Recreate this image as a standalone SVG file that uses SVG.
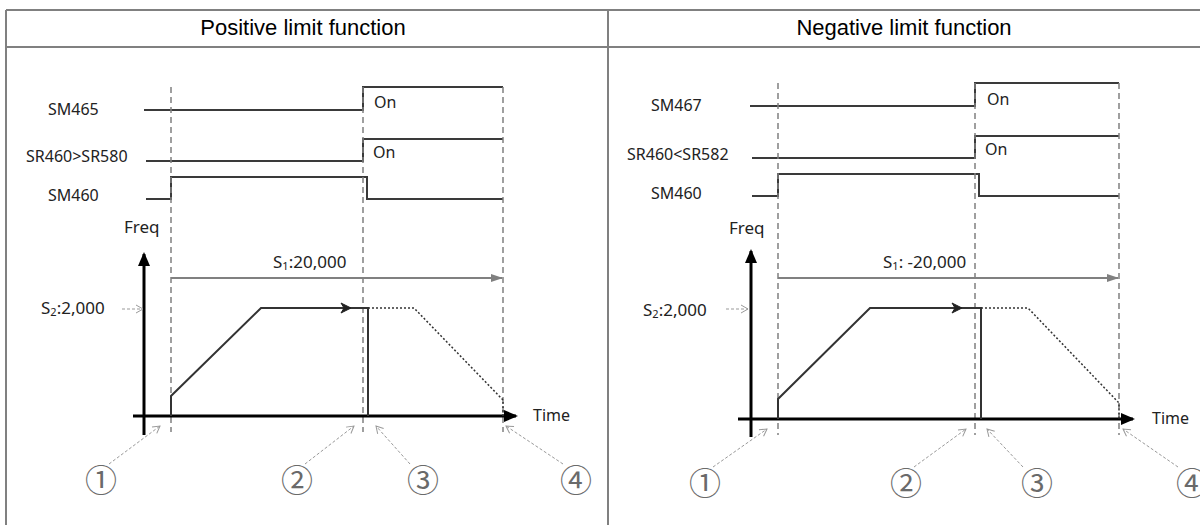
<svg xmlns="http://www.w3.org/2000/svg" width="1200" height="525" viewBox="0 0 1200 525">
<style>
.frame{stroke:#808080;stroke-width:2;fill:none}
.hdr{font-family:"Liberation Sans",Arial,sans-serif;font-size:22px;fill:#000;text-anchor:middle}
.sig{stroke:#3a3a3a;stroke-width:2;fill:none}
.lbl{font-family:"Noto Sans","Open Sans",sans-serif;font-size:16px;fill:#222}
.on{font-family:"Noto Sans","Open Sans",sans-serif;font-size:16px;fill:#222}
.val{font-family:"Noto Sans","Open Sans",sans-serif;font-size:17px;fill:#222}
.sub{font-size:11px}
.vdash{stroke:#808080;stroke-width:1.5;stroke-dasharray:6 4;fill:none}
.axis{stroke:#000;stroke-width:3;fill:none}
.s1{stroke:#808080;stroke-width:2;fill:none}
.prof{stroke:#333;stroke-width:2;fill:none}
.dot{stroke:#333;stroke-width:1.5;stroke-dasharray:2 2;fill:none}
.ann{stroke:#999;stroke-width:1;stroke-dasharray:3 2;fill:none}
.num{font-family:"Noto Sans CJK JP","DejaVu Sans",sans-serif;font-size:32px;fill:#6a6a6a;text-anchor:middle}
</style>
<defs>
<marker id="axisHead" markerUnits="userSpaceOnUse" markerWidth="14" markerHeight="14" viewBox="0 0 14 14" refX="12" refY="7" orient="auto"><path d="M0,1 L14,7 L0,13 z" fill="#000"/></marker>
<marker id="grayHead" markerUnits="userSpaceOnUse" markerWidth="12" markerHeight="10" viewBox="0 0 12 10" refX="11" refY="5" orient="auto"><path d="M0,1 L12,5 L0,9 z" fill="#808080"/></marker>
<marker id="openHead" markerUnits="userSpaceOnUse" markerWidth="10" markerHeight="10" viewBox="0 0 10 10" refX="8" refY="5" orient="auto"><path d="M1,1 L8,5 L1,9" fill="none" stroke="#999" stroke-width="1"/></marker>
</defs>

<g id="table">
<path class="frame" d="M6,10 H1200 M6,47 H1200 M6,10 V525 M608,10 V525"/>
<text class="hdr" x="303" y="35">Positive limit function</text>
<text class="hdr" x="904" y="35">Negative limit function</text>
</g>

<g id="positive-panel">
<g id="pos-signals">
<path class="sig" d="M144,110 H363 V87 H503"/>
<path class="sig" d="M146,161 H363 V139 H503"/>
<path class="sig" d="M146,199 H171 V177 H367 V199 H503"/>
<text class="lbl" x="48" y="115">SM465</text>
<text class="lbl" x="26" y="162">SR460&gt;SR580</text>
<text class="lbl" x="48" y="201">SM460</text>
<text class="on" x="374" y="108">On</text>
<text class="on" x="373" y="158">On</text>
</g>
<g id="pos-markers">
<path class="vdash" d="M171,87 V432 M363,87 V432 M503,87 V432"/>
</g>
<g id="pos-chart">
<path class="axis" d="M144,435 V254" marker-end="url(#axisHead)"/>
<path class="axis" d="M133,416 H516" marker-end="url(#axisHead)"/>
<text class="val" x="124" y="233">Freq</text>
<text class="lbl" x="533" y="421">Time</text>
<path class="s1" d="M171,278 H502" marker-end="url(#grayHead)"/>
<text class="val" x="273" y="268">S<tspan class="sub" dy="2">1</tspan><tspan dy="-2">:20,000</tspan></text>
<text class="val" x="41" y="314">S<tspan class="sub" dy="2">2</tspan><tspan dy="-2">:2,000</tspan></text>
<path class="ann" d="M122,309 H143" marker-end="url(#openHead)"/>
<path class="prof" d="M171,416 V396 L261,308 H368 V416"/>
<path d="M341,303 L351,308 L341,313 L344,308 z" fill="#222" stroke="#222" stroke-width="1"/>
<path class="dot" d="M368,308 H414 L503,400 V416"/>
</g>
<g id="pos-annotations">
<path class="ann" d="M109,464 L160,426" marker-end="url(#openHead)"/>
<path class="ann" d="M305,464 L354,426" marker-end="url(#openHead)"/>
<path class="ann" d="M410,464 L376,426" marker-end="url(#openHead)"/>
<path class="ann" d="M563,464 L506,426" marker-end="url(#openHead)"/>
<text class="num" x="101" y="492">①</text>
<text class="num" x="297" y="492">②</text>
<text class="num" x="423" y="492">③</text>
<text class="num" x="576" y="492">④</text>
</g>
</g>

<g id="negative-panel">
<g id="neg-signals">
<path class="sig" d="M750,106 H975 V83 H1119"/>
<path class="sig" d="M752,158 H975 V136 H1119"/>
<path class="sig" d="M752,196 H778 V174 H979 V196 H1119"/>
<text class="lbl" x="651" y="111">SM467</text>
<text class="lbl" x="627" y="160">SR460&lt;SR582</text>
<text class="lbl" x="651" y="199">SM460</text>
<text class="on" x="987" y="105">On</text>
<text class="on" x="985" y="155">On</text>
</g>
<g id="neg-markers">
<path class="vdash" d="M778,83 V435 M975,83 V435 M1119,83 V435"/>
</g>
<g id="neg-chart">
<path class="axis" d="M751,437 V251" marker-end="url(#axisHead)"/>
<path class="axis" d="M738,419 H1133" marker-end="url(#axisHead)"/>
<text class="val" x="729" y="234">Freq</text>
<text class="lbl" x="1152" y="424">Time</text>
<path class="s1" d="M778,278 H1118" marker-end="url(#grayHead)"/>
<text class="val" x="883" y="268">S<tspan class="sub" dy="2">1</tspan><tspan dy="-2">: -20,000</tspan></text>
<text class="val" x="643" y="316">S<tspan class="sub" dy="2">2</tspan><tspan dy="-2">:2,000</tspan></text>
<path class="ann" d="M726,309 H748" marker-end="url(#openHead)"/>
<path class="prof" d="M778,419 V399 L870,308 H981 V419"/>
<path d="M952,303 L962,308 L952,313 L955,308 z" fill="#222" stroke="#222" stroke-width="1"/>
<path class="dot" d="M981,308 H1028 L1119,403 V419"/>
</g>
<g id="neg-annotations">
<path class="ann" d="M713,467 L767,429" marker-end="url(#openHead)"/>
<path class="ann" d="M914,467 L966,429" marker-end="url(#openHead)"/>
<path class="ann" d="M1023,467 L987,429" marker-end="url(#openHead)"/>
<path class="ann" d="M1178,467 L1123,429" marker-end="url(#openHead)"/>
<text class="num" x="705" y="495">①</text>
<text class="num" x="906" y="495">②</text>
<text class="num" x="1037" y="495">③</text>
<text class="num" x="1192" y="495">④</text>
</g>
</g>
</svg>
